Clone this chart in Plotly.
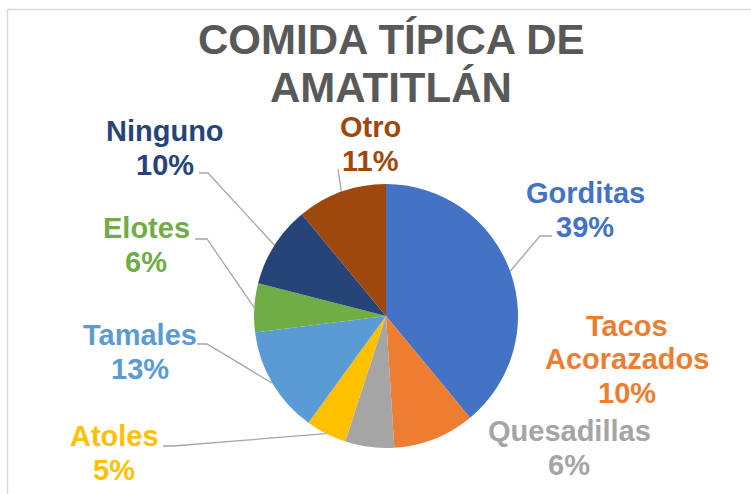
import math
import plotly.graph_objects as go

# ---- data ----
categories = ["Gorditas", "Tacos Acorazados", "Quesadillas", "Atoles",
              "Tamales", "Elotes", "Ninguno", "Otro"]
values = [39, 10, 6, 5, 13, 6, 10, 11]
colors = ["#4472C4", "#ED7D31", "#A5A5A5", "#FFC000",
          "#5B9BD5", "#70AD47", "#264478", "#9E480E"]
title_lines = ["COMIDA TÍPICA DE", "AMATITLÁN"]

# ---- layout (pixels in a 751x494 canvas) ----
W, H = 751, 494
CX, CY, R = 386, 316, 132
FONT = "Liberation Sans, Arial, sans-serif"
LABEL_SIZE = 29
LINE_STEP = 33.5

# label block centers and line breaks
label_pos = {
    "Gorditas": (585, 210, ["Gorditas"]),
    "Tacos Acorazados": (627, 359, ["Tacos", "Acorazados"]),
    "Quesadillas": (569, 448, ["Quesadillas"]),
    "Atoles": (114, 453, ["Atoles"]),
    "Tamales": (140, 352, ["Tamales"]),
    "Elotes": (146, 245, ["Elotes"]),
    "Ninguno": (165, 148, ["Ninguno"]),
    "Otro": (370, 144, ["Otro"]),
}
# leader line points on the label side (pie end computed from data)
leader_start = {
    "Gorditas": [(552, 236), (540, 236)],
    "Atoles": [(163, 446), (173, 446)],
    "Tamales": [(197, 344), (207, 344)],
    "Elotes": [(195, 239), (207, 239)],
    "Ninguno": [(199, 173), (208, 173)],
    "Otro": [(338, 169)],
}


def px(x):
    return x / W


def py(y):
    return 1 - y / H


fig = go.Figure(go.Pie(
    labels=categories,
    values=values,
    sort=False,
    direction="clockwise",
    rotation=0,
    marker=dict(colors=colors, line=dict(width=0)),
    textinfo="none",
    hoverinfo="label+percent",
    showlegend=False,
    domain=dict(x=[px(CX - R), px(CX + R)], y=[py(CY + R), py(CY - R)]),
))

annotations = []
# title
title_centers = [39, 87]
for line, yc in zip(title_lines, title_centers):
    annotations.append(dict(
        x=px(391), y=py(yc), xref="paper", yref="paper",
        text="<b>%s</b>" % line, showarrow=False,
        xanchor="center", yanchor="middle",
        font=dict(family=FONT, size=42, color="#595959"),
    ))

# data labels
total = sum(values)
for cat, val, col in zip(categories, values, colors):
    xc, yc, name_lines = label_pos[cat]
    lines = name_lines + ["%d%%" % round(100 * val / total)]
    n = len(lines)
    for k, t in enumerate(lines):
        y = yc + (k - (n - 1) / 2) * LINE_STEP
        annotations.append(dict(
            x=px(xc), y=py(y), xref="paper", yref="paper",
            text="<b>%s</b>" % t, showarrow=False,
            xanchor="center", yanchor="middle",
            font=dict(family=FONT, size=LABEL_SIZE, color=col),
        ))

# leader lines
shapes = []
cum = 0
for cat, val in zip(categories, values):
    mid = (cum + val / 2) / total * 2 * math.pi
    cum += val
    if cat not in leader_start:
        continue
    ex = CX + R * math.sin(mid)
    ey = CY - R * math.cos(mid)
    pts = leader_start[cat] + [(ex, ey)]
    path = "M %f,%f " % (px(pts[0][0]), py(pts[0][1]))
    path += " ".join("L %f,%f" % (px(a), py(b)) for a, b in pts[1:])
    shapes.append(dict(type="path", path=path, xref="paper", yref="paper",
                       line=dict(color="#A6A6A6", width=1.3)))

# chart frame (only top/left visible)
shapes.append(dict(type="rect", xref="paper", yref="paper",
                   x0=px(7.5), y0=-0.1, x1=1.1, y1=py(9.5),
                   line=dict(color="#D9D9D9", width=1.3),
                   fillcolor="rgba(0,0,0,0)", layer="below"))

fig.update_layout(
    width=W, height=H,
    margin=dict(l=0, r=0, t=0, b=0),
    paper_bgcolor="white",
    plot_bgcolor="white",
    annotations=annotations,
    shapes=shapes,
)

fig.write_html(
    "out.html",
    config={"displayModeBar": False},
    post_script="document.body.style.margin='0';document.body.style.overflow='hidden';",
)
